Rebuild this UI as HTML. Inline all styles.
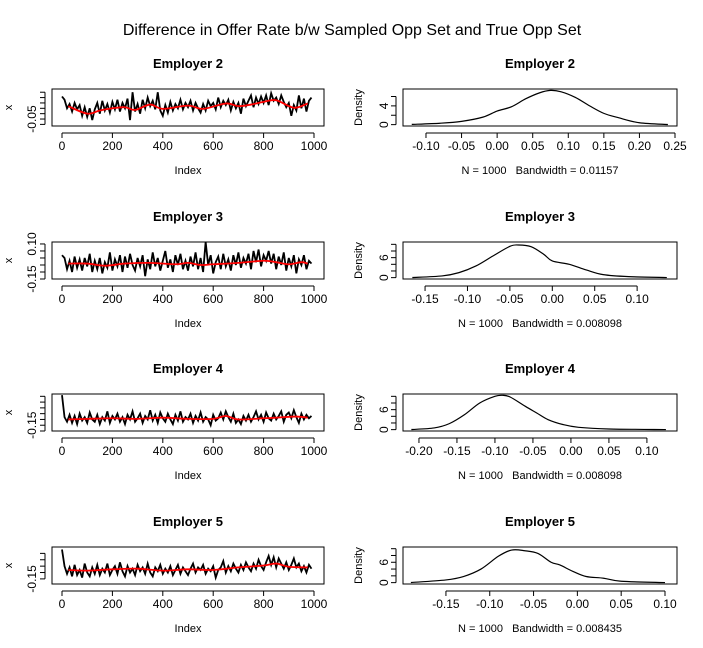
<!DOCTYPE html>
<html><head><meta charset="utf-8"><style>
body{margin:0;background:#fff}
svg{display:block;font-family:"Liberation Sans",sans-serif}
text{white-space:pre}
</style></head><body>
<svg id="c" width="703" height="648">
<text x="352" y="35" text-anchor="middle" font-size="16">Difference in Offer Rate b/w Sampled Opp Set and True Opp Set</text>
</svg>
<script>
const panelNames = ["Employer 2","Employer 3","Employer 4","Employer 5"];
const bandwidths = ["0.01157","0.008098","0.008098","0.008435"];
const ts2 = [0.16,0.13,0.05,0.09,0.02,0.1,0.04,0.08,-0.02,0.06,-0.03,0.05,-0.06,0.04,0.1,0.0,0.12,0.03,0.09,0.01,0.11,0.04,0.13,0.02,0.1,0.05,0.14,-0.06,0.2,0.02,0.09,0.0,0.13,0.05,0.15,0.07,0.12,0.04,0.2,0.03,-0.02,0.08,0.01,0.11,0.03,0.09,0.05,0.13,0.04,0.1,0.06,0.12,0.03,0.1,0.05,0.01,0.09,0.03,0.12,0.07,0.1,0.04,0.15,0.06,0.12,0.08,0.13,0.03,0.11,0.05,0.1,0.0,0.14,0.07,0.12,0.17,0.06,0.15,0.09,0.16,0.1,0.17,0.08,0.19,0.12,0.15,0.09,0.17,0.11,0.06,0.1,-0.02,0.08,0.03,0.17,0.05,0.14,0.02,0.12,0.15];
const ts3 = [0.02,0.0,-0.08,-0.02,-0.1,0.01,-0.07,-0.01,-0.09,0.0,-0.06,0.03,-0.1,-0.02,-0.08,0.0,-0.11,-0.03,-0.07,0.04,-0.09,-0.01,-0.06,0.02,-0.1,0.01,-0.07,0.03,-0.05,-0.09,0.0,-0.06,0.02,-0.13,-0.01,-0.08,0.04,-0.06,0.0,-0.09,-0.02,0.05,-0.07,-0.01,-0.1,0.02,-0.05,0.03,-0.08,-0.02,-0.09,0.01,-0.06,0.04,-0.08,0.0,-0.1,0.115,-0.05,0.02,-0.11,-0.03,0.01,-0.08,0.03,-0.06,-0.01,-0.09,0.02,-0.05,0.04,-0.07,0.0,-0.04,0.03,-0.08,0.05,-0.03,0.06,-0.06,0.02,-0.02,0.05,-0.04,0.03,-0.08,0.01,-0.05,0.04,-0.09,0.0,-0.06,0.02,-0.11,-0.01,-0.05,0.02,-0.08,-0.02,-0.04];
const ts4 = [0.11,-0.08,-0.12,-0.06,-0.13,-0.07,-0.14,-0.05,-0.11,-0.08,-0.13,-0.04,-0.1,-0.12,-0.06,-0.14,-0.08,-0.11,-0.03,-0.13,-0.07,-0.1,-0.05,-0.12,-0.08,-0.14,-0.06,-0.1,-0.03,-0.12,-0.09,-0.05,-0.13,-0.07,-0.1,-0.02,-0.11,-0.06,-0.13,-0.04,-0.09,-0.12,-0.05,-0.1,-0.14,-0.06,-0.11,-0.03,-0.12,-0.08,-0.1,-0.05,-0.13,-0.07,-0.11,-0.04,-0.12,-0.08,-0.1,-0.15,-0.06,-0.11,-0.09,-0.04,-0.1,-0.03,-0.08,-0.12,-0.05,-0.13,-0.1,-0.14,-0.07,-0.11,-0.06,-0.12,-0.08,-0.03,-0.1,-0.06,-0.12,-0.04,-0.09,-0.11,-0.05,-0.1,-0.07,-0.03,-0.12,-0.06,-0.04,-0.09,-0.02,-0.08,-0.13,-0.05,-0.1,-0.06,-0.09,-0.07];
const ts5 = [0.08,-0.05,-0.11,-0.06,-0.13,-0.04,-0.12,-0.08,-0.14,-0.03,-0.1,-0.13,-0.06,-0.11,-0.04,-0.12,-0.07,-0.1,-0.03,-0.12,-0.08,-0.05,-0.11,-0.02,-0.09,-0.13,-0.05,-0.1,-0.07,-0.12,-0.04,-0.09,-0.06,-0.11,-0.03,-0.1,-0.13,-0.06,-0.09,-0.04,-0.11,-0.07,-0.1,-0.05,-0.12,-0.08,-0.04,-0.11,-0.06,-0.09,-0.12,-0.07,-0.03,-0.1,-0.06,-0.08,-0.04,-0.11,-0.07,-0.09,-0.05,-0.14,-0.08,-0.06,-0.01,-0.1,-0.05,-0.09,-0.03,-0.07,-0.1,-0.04,-0.08,-0.02,-0.06,-0.09,-0.03,-0.07,0.0,-0.05,-0.08,-0.02,0.03,-0.04,0.02,-0.06,0.01,-0.03,-0.07,-0.02,-0.08,-0.04,0.01,-0.06,-0.03,-0.09,-0.05,-0.1,-0.04,-0.07];
const ma2x = [25,100,150,200,250,290,350,400,500,560,650,700,750,800,850,920,975];
const ma2y = [0.07,0.0,0.03,0.05,0.06,0.035,0.085,0.045,0.075,0.045,0.095,0.07,0.085,0.11,0.125,0.055,0.095];
const ma3x = [25,100,170,250,350,450,500,550,600,700,800,850,900,950,975];
const ma3y = [-0.04,-0.04,-0.055,-0.04,-0.035,-0.045,-0.035,-0.05,-0.045,-0.035,-0.02,-0.03,-0.045,-0.03,-0.04];
const ma4x = [25,100,200,300,400,500,600,650,700,800,850,930,975];
const ma4y = [-0.1,-0.095,-0.09,-0.095,-0.085,-0.095,-0.095,-0.07,-0.1,-0.09,-0.085,-0.075,-0.085];
const ma5x = [25,100,200,300,400,500,600,700,800,850,900,975];
const ma5y = [-0.08,-0.085,-0.075,-0.07,-0.085,-0.075,-0.08,-0.06,-0.045,-0.03,-0.055,-0.06];
const d2x = [-0.12,-0.08,-0.05,-0.02,0,0.02,0.04,0.06,0.075,0.09,0.11,0.13,0.15,0.17,0.2,0.24];
const d2y = [0.05,0.3,0.7,1.6,2.9,3.8,5.5,6.8,7.3,7.0,5.8,4.0,2.4,1.5,0.4,0.02];
const d3x = [-0.165,-0.13,-0.11,-0.09,-0.07,-0.05,-0.04,-0.025,-0.01,0.0,0.02,0.04,0.06,0.09,0.135];
const d3y = [0.03,0.5,1.5,3.5,6.5,9.4,9.8,9.3,7.0,5.0,4.0,2.3,0.9,0.3,0.02];
const d4x = [-0.21,-0.18,-0.16,-0.14,-0.12,-0.1,-0.09,-0.08,-0.06,-0.045,-0.03,-0.01,0.01,0.05,0.125];
const d4y = [0.03,0.5,1.8,4.5,8.0,10.0,10.3,9.8,7.0,5.0,3.0,1.5,0.7,0.2,0.02];
const d5x = [-0.19,-0.15,-0.13,-0.11,-0.09,-0.075,-0.06,-0.045,-0.03,-0.02,-0.005,0.01,0.03,0.05,0.1];
const d5y = [0.03,0.8,1.8,4.0,7.8,9.6,9.4,8.6,6.0,5.2,3.3,1.8,1.3,0.4,0.02];
const tsYlim = [[-0.115,0.23],[-0.15,0.114],[-0.2,0.12],[-0.19,0.1]];
const tsYticks = [[-0.1,-0.05,0,0.05,0.1,0.15,0.2],[-0.15,-0.1,-0.05,0,0.05,0.1],[-0.2,-0.15,-0.1,-0.05,0,0.05,0.1],[-0.15,-0.1,-0.05,0,0.05]];
const tsYlabels = [["-0.05"],["-0.15","0.10"],["-0.15"],["-0.15"]];
const dXlim = [[-0.1323,0.2528],[-0.176,0.147],[-0.221,0.1396],[-0.199,0.1137]];
const dXticks = [[-0.1,-0.05,0,0.05,0.1,0.15,0.2,0.25],[-0.15,-0.1,-0.05,0,0.05,0.1],[-0.2,-0.15,-0.1,-0.05,0,0.05,0.1],[-0.15,-0.1,-0.05,0,0.05,0.1]];
const dYmax = [7.6,10.7,10.7,10.5];
const dYticks = [[0,2,4,6],[0,2,4,6,8,10],[0,2,4,6,8,10],[0,2,4,6,8,10]];
const dYlabels = [[0,4],[0,6],[0,6],[0,6]];
const idxTicks = [0,200,400,600,800,1000];
const TS=[ts2,ts3,ts4,ts5], MAX=[ma2x,ma3x,ma4x,ma5x], MAY=[ma2y,ma3y,ma4y,ma5y], DX=[d2x,d3x,d4x,d5x], DY=[d2y,d3y,d4y,d5y];
const rowOff=[0,153,305,458];
const svg=document.getElementById('c');
const NS='http://www.w3.org/2000/svg';
function mk(t,a,txt){const e=document.createElementNS(NS,t);for(const k in a)e.setAttribute(k,a[k]);if(txt!=null)e.textContent=txt;svg.appendChild(e);return e;}
function fmt(v){return (Math.abs(v)<1e-9?0:v).toFixed(2);}
function smooth(p){let d='M'+p[0][0]+','+p[0][1];for(let i=0;i<p.length-1;i++){const p0=p[i-1]||p[i],p1=p[i],p2=p[i+1],p3=p[i+2]||p2;d+=' C'+(p1[0]+(p2[0]-p0[0])/6)+','+(p1[1]+(p2[1]-p0[1])/6)+' '+(p2[0]-(p3[0]-p1[0])/6)+','+(p2[1]-(p3[1]-p1[1])/6)+' '+p2[0]+','+p2[1];}return d;}
for(let r=0;r<4;r++){
  const top=89+rowOff[r], bot=126+rowOff[r];
  const L=52,R=324;
  const xs=i=>62+i*0.252;
  const [y0,y1]=tsYlim[r];
  const ys=v=>bot-(v-y0)/(y1-y0)*(bot-top);
  let t=mk('text',{x:188,y:68+rowOff[r],'text-anchor':'middle','font-size':13,'font-weight':'bold'},panelNames[r]);
  
  
  const pts=TS[r].map((v,i)=>xs(i*10)+','+ys(v)).join(' ');
  let pl=mk('polyline',{points:pts,fill:'none',stroke:'#000','stroke-width':1.8,'stroke-linejoin':'miter'});
  
  
  const mp=MAX[r].map((x,i)=>[xs(x),ys(MAY[r][i])]);
  let ma=mk('path',{d:smooth(mp),fill:'none',stroke:'#f00','stroke-width':1.8});
  
  
  let bx=mk('rect',{x:L,y:top,width:R-L,height:bot-top,fill:'none',stroke:'#000'});
  
  
  mk('line',{x1:xs(0),x2:xs(1000),y1:bot+7,y2:bot+7,stroke:'#000'});
  idxTicks.forEach(v=>{mk('line',{x1:xs(v),x2:xs(v),y1:bot+7,y2:bot+12,stroke:'#000'});
    let l=mk('text',{x:xs(v),y:bot+24,'text-anchor':'middle','font-size':12},String(v));
    
    });
  const yt=tsYticks[r];
  mk('line',{x1:L-7,x2:L-7,y1:ys(yt[0]),y2:ys(yt[yt.length-1]),stroke:'#000'});
  yt.forEach(v=>{mk('line',{x1:L-12,x2:L-7,y1:ys(v),y2:ys(v),stroke:'#000'});});
  tsYlabels[r].forEach(s=>{const v=parseFloat(s);const yy=ys(v);
    let l=mk('text',{x:0,y:0,'text-anchor':'middle','font-size':12,transform:`translate(36,${yy}) rotate(-90)`},s);
    
    });
  let xl=mk('text',{x:188,y:174+rowOff[r],'text-anchor':'middle','font-size':11},'Index');
  
  
  let yl=mk('text',{x:0,y:0,'text-anchor':'middle','font-size':11,transform:`translate(12,${(top+bot)/2}) rotate(-90)`},'x');
  
  
  const DL=403,DR=677;
  const [a,b]=dXlim[r];
  const dx=v=>DL+(v-a)/(b-a)*(DR-DL);
  const ymax=dYmax[r], ymin=-0.04*ymax/1.04;
  const dy=v=>bot-(v-ymin)/(ymax-ymin)*(bot-top);
  t=mk('text',{x:540,y:68+rowOff[r],'text-anchor':'middle','font-size':13,'font-weight':'bold'},panelNames[r]);
  
  
  const dp=DX[r].map((x,i)=>[dx(x),dy(DY[r][i])]);
  let dc=mk('path',{d:smooth(dp),fill:'none',stroke:'#000','stroke-width':1.2});
  
  
  bx=mk('rect',{x:DL,y:top,width:DR-DL,height:bot-top,fill:'none',stroke:'#000'});
  
  
  const xt=dXticks[r];
  mk('line',{x1:dx(xt[0]),x2:dx(xt[xt.length-1]),y1:bot+7,y2:bot+7,stroke:'#000'});
  xt.forEach(v=>{mk('line',{x1:dx(v),x2:dx(v),y1:bot+7,y2:bot+12,stroke:'#000'});
    let l=mk('text',{x:dx(v),y:bot+24,'text-anchor':'middle','font-size':12},fmt(v));
    
    });
  const dyt=dYticks[r];
  mk('line',{x1:DL-7,x2:DL-7,y1:dy(dyt[0]),y2:dy(dyt[dyt.length-1]),stroke:'#000'});
  dyt.forEach(v=>{mk('line',{x1:DL-12,x2:DL-7,y1:dy(v),y2:dy(v),stroke:'#000'});});
  dYlabels[r].forEach(v=>{
    let l=mk('text',{x:0,y:0,'text-anchor':'middle','font-size':12,transform:`translate(388,${dy(v)}) rotate(-90)`},String(v));
    
    });
  let nl=mk('text',{x:540,y:174+rowOff[r],'text-anchor':'middle','font-size':11},'N = 1000   Bandwidth = '+bandwidths[r]);
  
  
  let dl=mk('text',{x:0,y:0,'text-anchor':'middle','font-size':11,transform:`translate(362,${(top+bot)/2}) rotate(-90)`},'Density');
  
  
}
</script>
</body></html>
